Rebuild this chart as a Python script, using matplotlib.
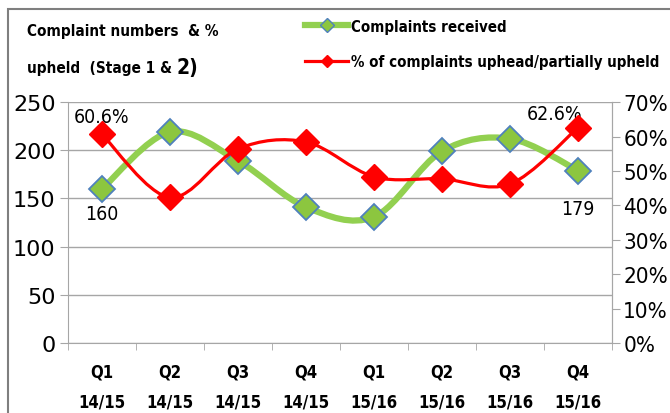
import numpy as np
import matplotlib.pyplot as plt
from matplotlib.path import Path
from matplotlib.patches import PathPatch, Rectangle
from matplotlib.lines import Line2D

quarters = ['Q1\n14/15', 'Q2\n14/15', 'Q3\n14/15', 'Q4\n14/15',
            'Q1\n15/16', 'Q2\n15/16', 'Q3\n15/16', 'Q4\n15/16']
received = [160, 219, 189, 141, 131, 199, 212, 179]
upheld_pct = [60.6, 42.3, 56.4, 58.4, 48.3, 47.7, 46.2, 62.6]

plt.rcParams['font.family'] = ['DejaVu Sans']

GREEN = '#92D050'
RED = '#FF0000'
GRID = '#A6A6A6'
NARROW = dict(fontstretch='condensed')


def smooth_path(xs, ys):
    # excel style smoothed line: catmull-rom segments as cubic beziers
    pts = np.column_stack([xs, ys]).astype(float)
    n = len(pts)
    verts = [pts[0]]
    codes = [Path.MOVETO]
    for i in range(n - 1):
        p0 = pts[max(i - 1, 0)]
        p1 = pts[i]
        p2 = pts[i + 1]
        p3 = pts[min(i + 2, n - 1)]
        c1 = p1 + (p2 - p0) / 6
        c2 = p2 - (p3 - p1) / 6
        verts += [c1, c2, p2]
        codes += [Path.CURVE4] * 3
    return Path(verts, codes)


fig = plt.figure(figsize=(6.7, 4.14), dpi=100)
ax = fig.add_axes([0.1015, 0.169, 0.812, 0.582])
ax2 = ax.twinx()

x = np.arange(len(quarters))

ax.add_patch(PathPatch(smooth_path(x, received), facecolor='none',
                       edgecolor=GREEN, lw=4.5, capstyle='round', zorder=3))
ax.plot(x, received, ls='none', marker='D', ms=13.5, mfc='#8CC63F',
        mec='#4F81BD', mew=1.3, zorder=4)

ax2.add_patch(PathPatch(smooth_path(x, upheld_pct), facecolor='none',
                        edgecolor=RED, lw=2.3, zorder=3))
ax2.plot(x, upheld_pct, ls='none', marker='D', ms=13, mfc=RED,
         mec=RED, zorder=4)

ax.set_xlim(-0.5, len(quarters) - 0.5)
ax.set_ylim(0, 250)
ax.set_yticks(range(0, 251, 50))
ax2.set_ylim(0, 70)
ax2.set_yticks(range(0, 71, 10))
ax2.set_yticklabels([f'{v}%' for v in range(0, 71, 10)], **NARROW)

ax.set_xticks(x)
ax.set_xticklabels(quarters, fontsize=12, fontweight='bold', **NARROW)
for lab in ax.get_xticklabels():
    lab.set_linespacing(1.85)
ax.set_xticks(np.arange(len(quarters) + 1) - 0.5, minor=True)
ax.tick_params(axis='x', which='major', length=0, pad=14)
ax.tick_params(axis='x', which='minor', length=5, color=GRID)
ax.tick_params(axis='y', labelsize=16, length=6, color=GRID, pad=3)
ax2.tick_params(axis='y', labelsize=16, length=6, color=GRID, pad=2)

ax.grid(axis='y', color=GRID, lw=1)
ax.set_axisbelow(True)
for a in (ax, ax2):
    a.spines['top'].set_visible(False)
    for s in ('left', 'right', 'bottom'):
        a.spines[s].set_color(GRID)
ax2.spines['left'].set_visible(False)
ax2.spines['bottom'].set_visible(False)

# data labels
ax.annotate(f'{received[0]}', (x[0], received[0]), xytext=(0, -18),
            textcoords='offset points', ha='center', va='center',
            fontsize=14, **NARROW)
ax.annotate(f'{received[-1]}', (x[-1], received[-1]), xytext=(0, -27),
            textcoords='offset points', ha='center', va='center',
            fontsize=14, **NARROW)
ax2.annotate(f'{upheld_pct[0]}%', (x[0], upheld_pct[0]), xytext=(0, 13),
             textcoords='offset points', ha='center', va='center',
             fontsize=14, **NARROW)
ax2.annotate(f'{upheld_pct[-1]}%', (x[-1], upheld_pct[-1]), xytext=(-17, 10),
             textcoords='offset points', ha='center', va='center',
             fontsize=14, **NARROW)

# title block
fig.text(0.04, 0.925, 'Complaint numbers  & %', fontsize=11, fontweight='bold',
         va='center', **NARROW)
t2 = fig.text(0.04, 0.835, 'upheld  (Stage 1 & ', fontsize=11,
              fontweight='bold', va='center', **NARROW)
ax.annotate('2)', xy=(1, 0.5), xycoords=t2, ha='left', va='center',
            fontsize=15, fontweight='bold', annotation_clip=False, **NARROW)

handles = [
    Line2D([], [], color=GREEN, lw=4.5, marker='D', ms=7, mfc='#8CC63F',
           mec='#4F81BD', mew=1),
    Line2D([], [], color=RED, lw=2.3, marker='D', ms=6, mfc=RED, mec=RED),
]
fig.legend(handles, ['Complaints received',
                     '% of complaints uphead/partially upheld'],
           loc='upper left', bbox_to_anchor=(0.435, 0.985), frameon=False,
           prop={'size': 10.8, 'weight': 'bold', 'stretch': 'condensed'},
           handlelength=2.9, handletextpad=0.2, labelspacing=1.35)

fig.patches.append(Rectangle((0.012, -0.1), 1.2, 1.075, transform=fig.transFigure,
                             fill=False, edgecolor='#7F7F7F', lw=1.5))

fig.savefig('out.png', dpi=100)
